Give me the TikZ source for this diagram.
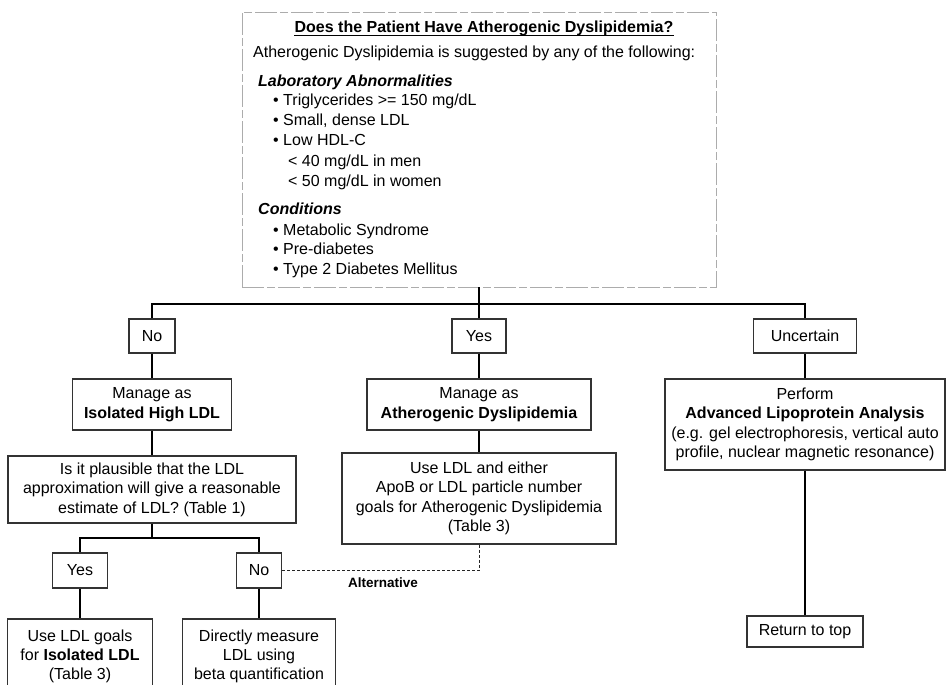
\documentclass[tikz,border=0pt]{standalone}
\usepackage{fontspec}
\setmainfont{Liberation Sans}
\begin{document}
\begin{tikzpicture}[x=1pt,y=-1pt,
  box/.style={draw=black!80, line width=1.1pt, align=center, inner sep=0pt, font=\fontsize{16}{19.5}\selectfont},
  txt/.style={inner sep=0pt, anchor=base west, font=\fontsize{16}{19.5}\selectfont},
  conn/.style={draw=black, line width=1.5pt},
  altline/.style={draw=black!85, line width=0.9pt, dash pattern=on 3pt off 2pt},
  topbox/.style={draw=gray!65, line width=0.8pt, dash pattern=on 22pt off 3pt on 8pt off 3pt, inner sep=0pt}]
\useasboundingbox (0,0) rectangle (950,685);
\clip (0,0) rectangle (950,685);

% top box
\node[topbox, minimum width=474pt, minimum height=275pt] (top) at (479,149.5) {};
\node[txt, anchor=base, font=\fontsize{16}{19.5}\selectfont\bfseries] (title) at (484,33) {Does the Patient Have Atherogenic Dyslipidemia?};
\draw[line width=1pt] ([yshift=-2.5pt]title.base west) -- ([yshift=-2.5pt]title.base east);
\node[txt] (t1) at (253,57) {Atherogenic Dyslipidemia is suggested by any of the following:};
\node[txt, font=\fontsize{16}{19.5}\selectfont\bfseries\itshape] (t2) at (258,86) {Laboratory Abnormalities};
\node[txt] (t3) at (273,105) {• Triglycerides >= 150 mg/dL};
\node[txt] (t4) at (273,125) {• Small, dense LDL};
\node[txt] (t5) at (273,145) {• Low HDL-C};
\node[txt] (t6) at (288,166) {< 40 mg/dL in men};
\node[txt] (t7) at (288,186) {< 50 mg/dL in women};
\node[txt, font=\fontsize{16}{19.5}\selectfont\bfseries\itshape] (t8) at (258,214) {Conditions};
\node[txt] (t9) at (273,235) {• Metabolic Syndrome};
\node[txt] (t10) at (273,254) {• Pre-diabetes};
\node[txt] (t11) at (273,274) {• Type 2 Diabetes Mellitus};

% first level
\coordinate (bus) at (479,304);
\node[box, minimum width=46pt, minimum height=34pt] (no) at (152,336) {No};
\node[box, minimum width=54pt, minimum height=34pt] (yes) at (479,336) {Yes};
\node[box, minimum width=103pt, minimum height=34pt] (unc) at (805,336) {Uncertain};

\node[box, minimum width=159pt, minimum height=51pt] (mil) at (152,404.5) {Manage as\\\textbf{Isolated High LDL}};
\node[box, minimum width=224pt, minimum height=51pt] (mad) at (479,404.5) {Manage as\\\textbf{Atherogenic Dyslipidemia}};
\node[box, minimum width=280pt, minimum height=91pt] (perf) at (805,424.5) {Perform\\\textbf{Advanced Lipoprotein Analysis}\\(e.g. gel electrophoresis, vertical auto\\profile, nuclear magnetic resonance)};

\node[box, minimum width=288pt, minimum height=67pt] (q) at (152,489.5) {Is it plausible that the LDL\\approximation will give a reasonable\\estimate of LDL? (Table 1)};
\node[box, minimum width=274pt, minimum height=91pt] (uld) at (479,498.5) {Use LDL and either\\ApoB or LDL particle number\\goals for Atherogenic Dyslipidemia\\(Table 3)};

\coordinate (sbus) at (152,538);
\node[box, minimum width=55pt, minimum height=35pt] (yes2) at (80,570.5) {Yes};
\node[box, minimum width=45pt, minimum height=35pt] (no2) at (259,570.5) {No};

\node[box, minimum width=145pt, minimum height=74pt, font=\fontsize{16}{19}\selectfont] (b1) at (80,656) {Use LDL goals\\for \textbf{Isolated LDL}\\(Table 3)};
\node[box, minimum width=153pt, minimum height=74pt, font=\fontsize{16}{19}\selectfont] (b2) at (259,656) {Directly measure\\LDL using\\beta quantification};

\node[box, minimum width=116pt, minimum height=31pt] (ret) at (805,631.5) {Return to top};

\node[txt, font=\fontsize{13.5}{16}\selectfont\bfseries] (alt) at (348,587) {Alternative};

% connectors
\draw[conn] (top.south) -- (yes.north);
\draw[conn] (no.north) |- (bus) -| (unc.north);
\draw[conn] (no.south) -- (mil.north);
\draw[conn] (mil.south) -- (q.north);
\draw[conn] (yes.south) -- (mad.north);
\draw[conn] (mad.south) -- (uld.north);
\draw[conn] (unc.south) -- (perf.north);
\draw[conn] (perf.south) -- (ret.north);
\draw[conn] (q.south) -- (sbus);
\draw[conn] (yes2.north) |- (sbus) -| (no2.north);
\draw[conn] (yes2.south) -- (b1.north);
\draw[conn] (no2.south) -- (b2.north);
\draw[altline] (uld.south) |- (no2.east);
\end{tikzpicture}
\end{document}
